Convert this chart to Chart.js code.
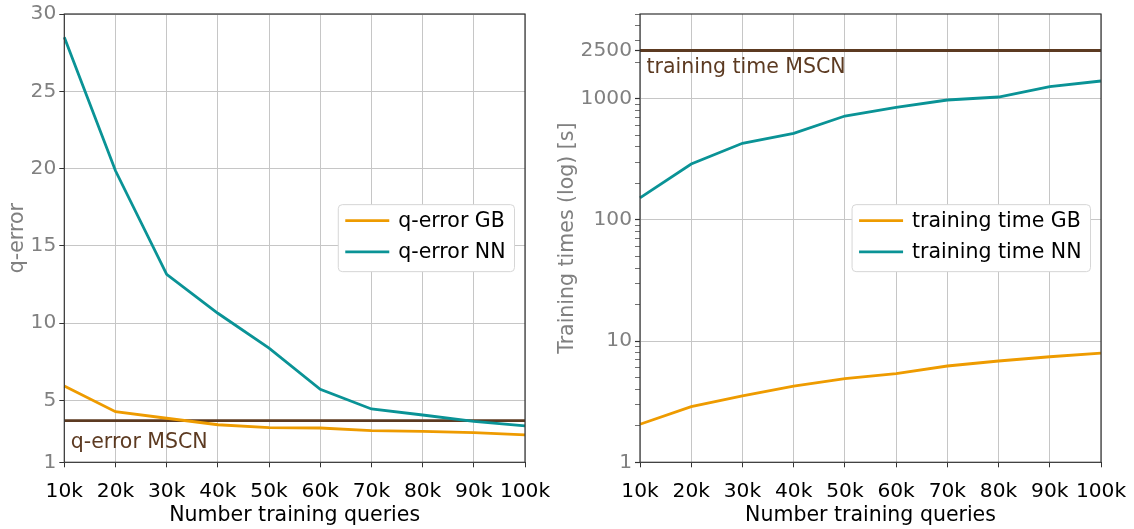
<!DOCTYPE html>
<html>
<head>
<meta charset="utf-8">
<script src="https://cdn.jsdelivr.net/npm/chart.js@4.4.0/dist/chart.umd.min.js"></script>
<style>
  html, body { margin: 0; padding: 0; background: #fff; }
  #wrap { position: relative; width: 1134px; height: 529px; overflow: hidden; }
  .box { position: absolute; top: 0; height: 529px; }
  #leftBox { left: 0; width: 560px; }
  #rightBox { left: 545px; width: 589px; }
</style>
</head>
<body>
<div id="wrap">
  <div class="box" id="leftBox"><canvas id="qerrChart" width="560" height="529"></canvas></div>
  <div class="box" id="rightBox"><canvas id="timeChart" width="589" height="529"></canvas></div>
</div>
<script>
// values
const queryLabels = ['10k', '20k', '30k', '40k', '50k', '60k', '70k', '80k', '90k', '100k'];

const qerrGB = [5.94, 4.27, 3.85, 3.43, 3.24, 3.22, 3.05, 3.0, 2.92, 2.77];
const qerrNN = [28.5, 19.86, 13.16, 10.64, 8.39, 5.72, 4.45, 4.06, 3.65, 3.35];
const qerrMSCN = 3.69;

const timeGB = [2.06, 2.88, 3.54, 4.26, 4.9, 5.38, 6.23, 6.85, 7.43, 7.97];
const timeNN = [152, 289, 429, 518, 720, 849, 976, 1033, 1256, 1400];
const timeMSCN = 2500;

const qerrTicks = [1, 5, 10, 15, 20, 25, 30];
const timeTicks = [1, 10, 100, 1000, 2500];
const timeMinorTicks = [2, 3, 4, 5, 6, 7, 8, 9, 20, 30, 40, 50, 60, 70, 80, 90,
  200, 300, 400, 500, 600, 700, 800, 900, 2000, 3000, 4000, 5000];

const FONT = '"DejaVu Sans", "Liberation Sans", sans-serif';
const C_GB = '#EE9B00';
const C_NN = '#0A9396';
const C_MSCN = '#5C3A21';
const GRID = '#c6c6c6';
const AXIS = '#333333';
const GREY = '#808080';
const TICK_SIZE = 20.2;
const TEXT_SIZE = 20.5;

// frame on all four sides, like matplotlib spines
const framePlugin = {
  id: 'frame',
  afterDatasetsDraw(chart) {
    const { ctx, chartArea: a } = chart;
    ctx.save();
    ctx.strokeStyle = AXIS;
    ctx.lineWidth = 1.2;
    ctx.strokeRect(a.left, a.top, a.right - a.left, a.bottom - a.top);
    ctx.restore();
  }
};

// text label under the MSCN reference line
const refLabelPlugin = {
  id: 'refLabel',
  afterDatasetsDraw(chart, args, opts) {
    if (!opts.text) return;
    const { ctx, chartArea: a } = chart;
    const y = chart.scales.y.getPixelForValue(opts.value);
    ctx.save();
    ctx.font = TEXT_SIZE + 'px ' + FONT;
    ctx.fillStyle = C_MSCN;
    ctx.textAlign = 'left';
    ctx.textBaseline = 'alphabetic';
    ctx.fillText(opts.text, a.left + 6.5, y + opts.dy);
    ctx.restore();
  }
};

// legend box at 'center right' inside the plot
const boxLegendPlugin = {
  id: 'boxLegend',
  afterDraw(chart) {
    const { ctx, chartArea: a } = chart;
    const items = chart.data.datasets.filter(d => !d.noLegend);
    ctx.save();
    ctx.font = TEXT_SIZE + 'px ' + FONT;
    const tw = Math.max(...items.map(d => ctx.measureText(d.label).width));
    const w = 7 + 44 + 9 + tw + 9;
    const h = 67;
    const x = a.right - 10.5 - w;
    const y = (a.top + a.bottom) / 2 - h / 2;
    ctx.beginPath();
    ctx.roundRect(x, y, w, h, 4);
    ctx.fillStyle = '#ffffff';
    ctx.fill();
    ctx.strokeStyle = '#d6d6d6';
    ctx.lineWidth = 1;
    ctx.stroke();
    items.forEach((d, i) => {
      const cy = y + 16 + i * 31.3;
      ctx.beginPath();
      ctx.moveTo(x + 7, cy);
      ctx.lineTo(x + 51, cy);
      ctx.strokeStyle = d.borderColor;
      ctx.lineWidth = 2.8;
      ctx.stroke();
      ctx.fillStyle = '#000';
      ctx.textAlign = 'left';
      ctx.textBaseline = 'middle';
      ctx.fillText(d.label, x + 60, cy + 1);
    });
    ctx.restore();
  }
};

function lineSet(label, data, color, extra) {
  return Object.assign({
    label: label,
    data: data,
    borderColor: color,
    backgroundColor: color,
    borderWidth: 2.8,
    pointRadius: 0,
    tension: 0,
    fill: false
  }, extra || {});
}

function xAxis() {
  return {
    grid: { color: GRID, lineWidth: 1, tickColor: AXIS, tickLength: 5, drawTicks: true },
    border: { display: false },
    ticks: { color: '#000', font: { family: FONT, size: TICK_SIZE }, padding: 12, maxRotation: 0, autoSkip: false },
    title: {
      display: true, text: 'Number training queries', color: '#000',
      font: { family: FONT, size: TEXT_SIZE }, padding: { top: 0, bottom: 1 }
    },
    afterFit(s) { s.height = 66.7; s.paddingLeft = 0; s.paddingRight = 0; }
  };
}

function makeOptions(yScale, pad, refOpts) {
  return {
    responsive: false,
    animation: false,
    layout: { padding: pad },
    plugins: {
      legend: { display: false },
      tooltip: { enabled: false },
      refLabel: refOpts
    },
    scales: { x: xAxis(), y: yScale }
  };
}

// left: q-error
new Chart(document.getElementById('qerrChart'), {
  type: 'line',
  data: {
    labels: queryLabels,
    datasets: [
      lineSet('q-error GB', qerrGB, C_GB),
      lineSet('q-error NN', qerrNN, C_NN),
      lineSet('q-error MSCN', queryLabels.map(() => qerrMSCN), C_MSCN, { noLegend: true })
    ]
  },
  options: makeOptions({
    type: 'linear',
    min: 1,
    max: 30,
    afterBuildTicks(s) { s.ticks = qerrTicks.map(v => ({ value: v })); },
    grid: { color: GRID, lineWidth: 1, tickColor: AXIS, tickLength: 5 },
    border: { display: false },
    ticks: { color: GREY, font: { family: FONT, size: TICK_SIZE }, padding: 3, autoSkip: false },
    title: { display: true, text: 'q-error', color: GREY, font: { family: FONT, size: TEXT_SIZE }, padding: { top: 5, bottom: 0 } },
    afterFit(s) { s.width = 64.3; s.paddingTop = 0; s.paddingBottom = 0; }
  }, { top: 14, right: 35, bottom: 0, left: 0 }, { text: 'q-error MSCN', value: qerrMSCN, dy: 27.5 }),
  plugins: [framePlugin, refLabelPlugin, boxLegendPlugin]
});

// right: training times, log scale
new Chart(document.getElementById('timeChart'), {
  type: 'line',
  data: {
    labels: queryLabels,
    datasets: [
      lineSet('training time GB', timeGB, C_GB),
      lineSet('training time NN', timeNN, C_NN),
      lineSet('training time MSCN', queryLabels.map(() => timeMSCN), C_MSCN, { noLegend: true })
    ]
  },
  options: makeOptions({
    type: 'logarithmic',
    min: 1,
    max: 5000,
    afterBuildTicks(s) {
      s.ticks = timeTicks.concat(timeMinorTicks).sort((a, b) => a - b).map(v => ({ value: v }));
    },
    grid: {
      color: c => (c.tick && timeTicks.includes(c.tick.value)) ? GRID : 'rgba(0,0,0,0)',
      lineWidth: 1,
      tickColor: AXIS,
      tickWidth: c => (c.tick && timeTicks.includes(c.tick.value)) ? 1.2 : 0.7,
      tickLength: 5
    },
    border: { display: false },
    ticks: {
      color: GREY, font: { family: FONT, size: TICK_SIZE }, padding: 3, autoSkip: false,
      callback: v => timeTicks.includes(v) ? String(v) : ''
    },
    title: { display: true, text: 'Training times (log) [s]', color: GREY, font: { family: FONT, size: TEXT_SIZE }, padding: { top: 10.5, bottom: 0 } },
    afterFit(s) { s.width = 95; s.paddingTop = 0; s.paddingBottom = 0; }
  }, { top: 14, right: 33, bottom: 0, left: 0 }, { text: 'training time MSCN', value: timeMSCN, dy: 23 }),
  plugins: [framePlugin, refLabelPlugin, boxLegendPlugin]
});
</script>
</body>
</html>
